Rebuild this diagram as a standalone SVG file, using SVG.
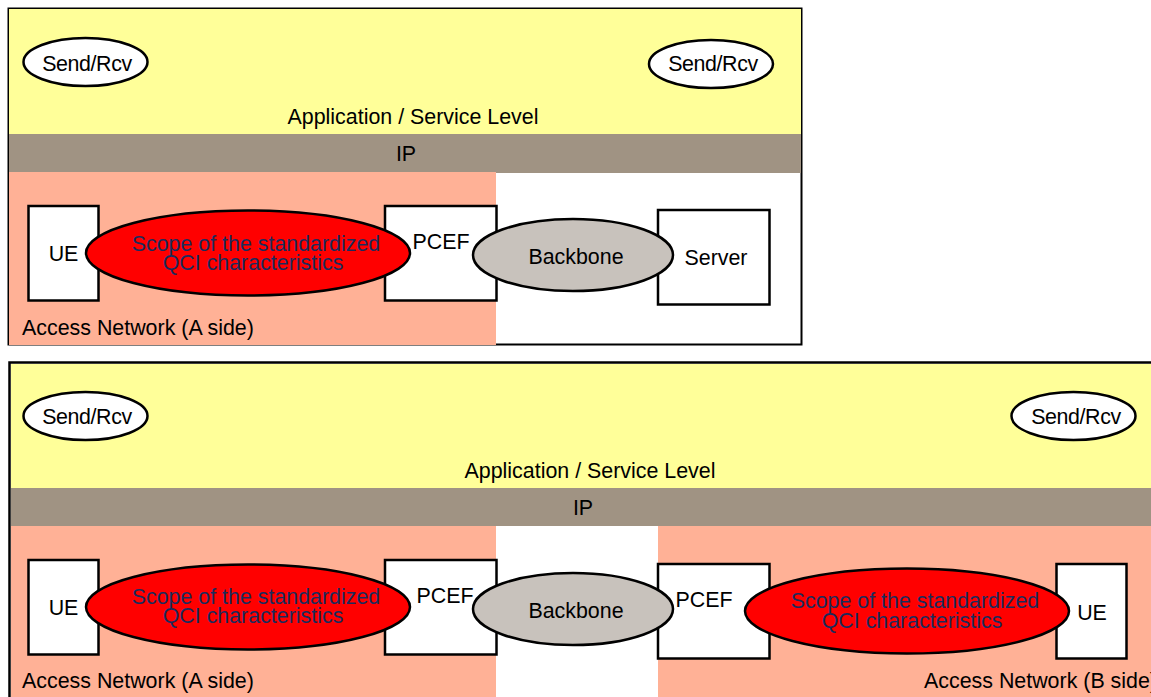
<svg xmlns="http://www.w3.org/2000/svg" width="1151" height="697" viewBox="0 0 1151 697">
<style>
text{font-family:"Liberation Sans",Arial,sans-serif;font-size:21.4px;fill:#000;text-anchor:middle}
.app{fill:#ffff99}.ip{fill:#a09383}.acc{fill:#ffb196}
.box{fill:#fff;stroke:#000;stroke-width:2.5}
.sr{fill:#fff;stroke:#000;stroke-width:2.5}
.sc{fill:#ff0000;stroke:#000;stroke-width:2.5}
.bb{fill:#c8c2bc;stroke:#000;stroke-width:2.5}
text.q{fill:#1a2b5c}
text.l{text-anchor:start}
text.s{letter-spacing:-0.4px}
</style>
<g id="top-panel">
<rect x="8.500" y="8.500" width="793" height="336" fill="#fff" stroke="#000" stroke-width="2"/>
<rect class="app" x="9" y="9" width="792" height="125"/>
<rect class="ip" x="9" y="134" width="792" height="39"/>
<rect class="acc" x="9" y="172" width="487" height="173"/>
<text x="413" y="124">Application / Service Level</text>
<text x="406" y="161">IP</text>
<text class="l" x="22" y="335">Access Network (A side)</text>
</g>
<g id="top-sendrcv-a"><ellipse class="sr" cx="85.500" cy="62" rx="62" ry="24"/><text class="s" x="87" y="71">Send/Rcv</text></g>
<g id="top-sendrcv-b"><ellipse class="sr" cx="711" cy="64" rx="62" ry="24"/><text class="s" x="713" y="71">Send/Rcv</text></g>
<g id="top-ue"><rect class="box" x="28.500" y="206" width="70" height="94.500"/><text x="63.500" y="261">UE</text></g>
<g id="top-pcef"><rect class="box" x="385" y="206" width="111.500" height="94.500"/><text x="441" y="249">PCEF</text></g>
<g id="top-server"><rect class="box" x="658" y="210" width="111.500" height="94.500"/><text x="716" y="265">Server</text></g>
<g id="top-scope"><ellipse class="sc" cx="248" cy="253" rx="162" ry="42.500"/><text class="q" x="256" y="251">Scope of the standardized</text><text class="q" x="253" y="270">QCI characteristics</text></g>
<g id="top-backbone"><ellipse class="bb" cx="573" cy="255" rx="100" ry="36"/><text x="576" y="264">Backbone</text></g>
<g id="bottom-panel">
<rect x="9.500" y="362.500" width="1150" height="340" fill="#fff" stroke="#000" stroke-width="2.500"/>
<rect class="app" x="11" y="364" width="1140" height="124"/>
<rect class="ip" x="11" y="488" width="1140" height="38"/>
<rect class="acc" x="11" y="526" width="485" height="171"/>
<rect class="acc" x="658" y="526" width="493" height="171"/>
<text x="590" y="478">Application / Service Level</text>
<text x="583" y="515">IP</text>
<text class="l" x="22" y="688">Access Network (A side)</text>
<text class="l" x="924" y="688">Access Network (B side)</text>
</g>
<g id="bottom-sendrcv-a"><ellipse class="sr" cx="85.500" cy="416" rx="62" ry="24"/><text class="s" x="87" y="424">Send/Rcv</text></g>
<g id="bottom-sendrcv-b"><ellipse class="sr" cx="1073.500" cy="416" rx="62" ry="24"/><text class="s" x="1076" y="424">Send/Rcv</text></g>
<g id="bottom-ue-a"><rect class="box" x="28.500" y="560" width="70" height="94.500"/><text x="63.500" y="615">UE</text></g>
<g id="bottom-pcef-a"><rect class="box" x="385" y="560" width="111.500" height="94.500"/><text x="445" y="603">PCEF</text></g>
<g id="bottom-pcef-b"><rect class="box" x="658" y="564" width="111.500" height="94.500"/><text x="704" y="607">PCEF</text></g>
<g id="bottom-ue-b"><rect class="box" x="1056.500" y="564" width="70" height="94.500"/><text x="1092" y="620">UE</text></g>
<g id="bottom-scope-a"><ellipse class="sc" cx="248" cy="607" rx="162" ry="42.500"/><text class="q" x="256" y="604">Scope of the standardized</text><text class="q" x="253" y="623">QCI characteristics</text></g>
<g id="bottom-backbone"><ellipse class="bb" cx="573" cy="609" rx="100" ry="36"/><text x="576" y="618">Backbone</text></g>
<g id="bottom-scope-b"><ellipse class="sc" cx="907" cy="611" rx="162" ry="42.500"/><text class="q" x="915" y="608">Scope of the standardized</text><text class="q" x="912" y="628">QCI characteristics</text></g>
<g id="connectors"></g>
</svg>
